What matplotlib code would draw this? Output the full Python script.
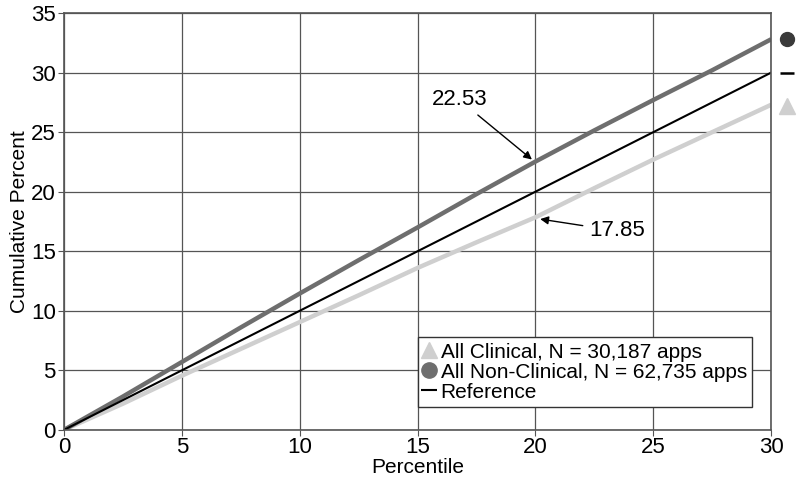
import matplotlib.pyplot as plt
from matplotlib.lines import Line2D

plt.rcParams['font.family'] = ['Liberation Sans', 'DejaVu Sans']

#--- data ---
pct = [0, 2.5, 5, 7.5, 10, 12.5, 15, 17.5, 20, 22.5, 25, 27.5, 30]
non_clinical = [0, 2.8, 5.7, 8.6, 11.45, 14.25, 17.0, 19.8, 22.53, 25.15, 27.7, 30.2, 32.8]
clinical = [0, 2.2, 4.55, 6.8, 9.05, 11.3, 13.6, 15.75, 17.85, 20.3, 22.7, 25.0, 27.3]
reference = [0, 2.5, 5, 7.5, 10, 12.5, 15, 17.5, 20, 22.5, 25, 27.5, 30]

c_non = '#6e6e6e'
c_cli = '#cfcfcf'

fig, ax = plt.subplots(figsize=(8, 4.83), dpi=100)
fig.subplots_adjust(left=0.08, right=0.964, top=0.973, bottom=0.11)

ax.plot(pct, clinical, color=c_cli, lw=3.2, solid_capstyle='butt')
ax.plot(pct, non_clinical, color=c_non, lw=3.2, solid_capstyle='butt')
ax.plot(pct, reference, color='black', lw=1.5)

# endpoint markers just outside the right edge
ax.plot([30.65], [non_clinical[-1]], 'o', color='#3a3a3a', ms=10, clip_on=False)
ax.plot([30.65], [reference[-1]], '_', color='black', ms=10, mew=1.8, clip_on=False)
ax.plot([30.65], [clinical[-1] - 0.1], '^', color=c_cli, ms=11, clip_on=False)

ax.annotate('22.53', xy=(19.85, 22.7), xytext=(15.6, 27.7), fontsize=16,
            va='center', ha='left',
            arrowprops=dict(arrowstyle='-|>', color='black', lw=1, mutation_scale=12,
                            shrinkA=2, shrinkB=0))
ax.annotate('17.85', xy=(20.2, 17.7), xytext=(22.3, 16.7), fontsize=16,
            va='center', ha='left',
            arrowprops=dict(arrowstyle='-|>', color='black', lw=1, mutation_scale=12,
                            shrinkA=3, shrinkB=0))

ax.set_xlim(0, 30)
ax.set_ylim(0, 35)
ax.set_xticks(range(0, 31, 5))
ax.set_yticks(range(0, 36, 5))
ax.grid(True, color='#555555', lw=0.9)
ax.set_axisbelow(True)
for s in ax.spines.values():
    s.set_color('#555555')
    s.set_linewidth(1.2)
ax.tick_params(labelsize=16, color='#555555', length=4, pad=2)
ax.tick_params(axis='x', pad=1)
ax.set_xlabel('Percentile', fontsize=15, labelpad=0)
ax.set_ylabel('Cumulative Percent', fontsize=15, labelpad=1)

handles = [
    Line2D([], [], marker='^', color=c_cli, ls='none', ms=11),
    Line2D([], [], marker='o', color='#6e6e6e', ls='none', ms=11),
    Line2D([], [], marker='_', color='black', ls='none', ms=11, mew=1.5),
]
labels = ['All Clinical, N = 30,187 apps',
          'All Non-Clinical, N = 62,735 apps',
          'Reference']
leg = ax.legend(handles, labels, loc='lower right', bbox_to_anchor=(0.973, 0.055),
                fontsize=15, handlelength=0.6, handletextpad=0.25,
                labelspacing=0.05, borderpad=0.25, borderaxespad=0,
                fancybox=False, framealpha=1)
leg.get_frame().set_edgecolor('#333333')
leg.get_frame().set_linewidth(1)

plt.savefig('out.png')
